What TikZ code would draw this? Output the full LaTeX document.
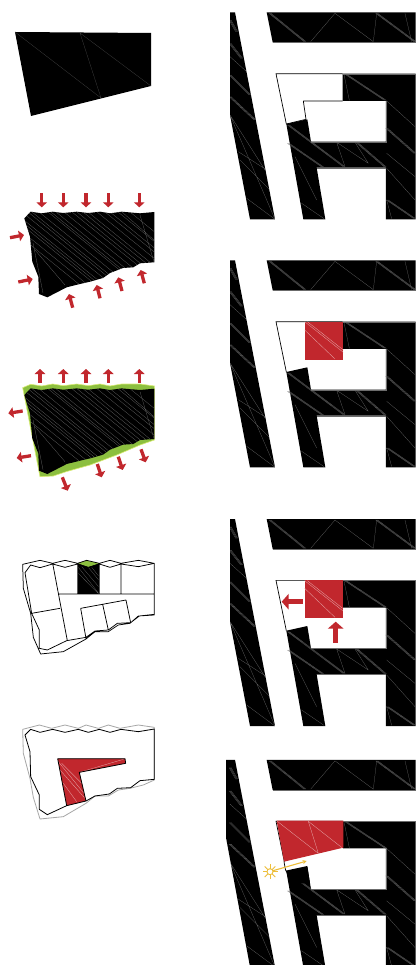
\documentclass[tikz,border=0pt]{standalone}
\usetikzlibrary{arrows.meta}
\definecolor{rd}{HTML}{C1272D}
\definecolor{gn}{HTML}{8CBF3F}
\definecolor{yl}{HTML}{EDBE3A}
\tikzset{
 hatch/.style={draw=white!42!black,line width=0.22pt},
 faint/.style={draw=white!28!black,line width=0.22pt},
 redhatch/.style={draw=white!60!rd,line width=0.3pt},
 thin line/.style={draw=black,line width=0.7pt},
 arrS/.style={draw=rd,line width=3.3pt,-{Triangle[width=10.5pt,length=5pt]}},
 arrL/.style={draw=rd,line width=5.5pt,-{Triangle[width=15.5pt,length=7pt]}},
 zm/.style={x=0.3333pt,y=-0.3333pt},
}
% triple hatch line
\newcommand{\tri}[2]{\foreach \dd in {-3,0,3}{\draw[hatch] ([xshift=\dd*0.3333pt]#1) -- ([xshift=\dd*0.3333pt]#2);}}
\newcommand{\siteplan}[3]{%
 \begin{scope}[shift={(220pt,-#1pt)},zm]
  % left strip
  \begin{scope}
   \clip (#2,37) -- (45,37) -- (165,658) -- (90,658) -- (#2,#3) -- cycle;
   \fill (0,0) rectangle (200,700);
   \tri{30,60}{50,95}\tri{30,130}{65,175}\draw[hatch](30,170)--(80,215);
   \tri{30,225}{90,285}\tri{30,290}{105,360}
   \draw[hatch](30,345)--(135,510) (55,455)--(140,510) (60,480)--(150,570) (80,595)--(165,658) (30,345)--(165,658);
  \end{scope}
  % top bar
  \fill (140,37) -- (587,37) -- (587,127) -- (158,127) -- cycle;
  \tri{150,40}{255,125}\tri{470,40}{585,125}
  \draw[hatch](345,40)--(272,125) (345,40)--(460,125) (470,40)--(460,125) (555,40)--(575,125);
  \draw[hatch] (158,127)--(587,127);
  % main block
  \fill (368,221) -- (587,221) -- (587,658) -- (498,658) -- (498,503) -- (290,503) -- (316,658) -- (250,658) -- (199,372) -- (262,358) -- (273,425) -- (498,425) -- (498,303) -- (368,303) -- cycle;
  \draw[hatch](372,223)--(388,301);
  \tri{378,223}{496,301}\draw[hatch](500,303)--(585,380);
  \tri{500,385}{585,460}\draw[hatch](500,460)--(585,530);
  \tri{205,375}{372,500}\tri{205,430}{308,501}
  \draw[hatch](350,427)--(375,500) (350,427)--(445,490) (405,427)--(445,490);
  \tri{410,427}{496,501}
  \draw[hatch](500,505)--(585,600) (500,600)--(515,656) (225,470)--(290,600) (245,610)--(312,656);
  \tri{502,600}{584,656}
  \draw[hatch] (273,425)--(498,425)--(498,303) (290,503)--(498,503);
  % courtyard outline
  \draw[thin line] (368,221) -- (168,221) -- (199,372);
  \draw[hatch] (368,221)--(587,221);
 \end{scope}}
\begin{document}
\begin{tikzpicture}[x=1pt,y=-1pt]
\useasboundingbox (0,0) rectangle (416,965);
\fill[white] (0,0) rectangle (416,965);

% ---- diagram 1
\fill (15,32) -- (151,33) -- (151,86) -- (31,116) -- cycle;
\draw[faint] (80,33)--(101,98) (15,32)--(101,98) (80,33)--(151,86);

% ---- diagram 2
\def\blob{(24.3,218.3) -- (30.7,211.7) -- (41.7,213.3) -- (52.7,211.7) -- (63.3,213) -- (76.7,211.7) -- (88.3,213) -- (100,211.7) -- (110,213.3) -- (121.7,211.7) -- (140,213.3) -- (154.3,212) -- (154.3,262.3) -- (140,263.3) -- (133.3,267.3) -- (123,268) -- (110,273) -- (103,278) -- (90,281.7) -- (80,284) -- (66.7,287.3) -- (47.3,297.3) -- (39,294) -- (38.3,276.7) -- (32.3,261.7) -- (30,236.7) -- cycle}
\newcommand{\blobfill}{%
 \begin{scope}
  \clip \blob;
  \fill (0,200) rectangle (170,300);
  \foreach \d in {-30,-22,-14,-10,-6,2,8,12,19,28,31,36,44,52,57,63,68,77,85,90,98,110}{
   \draw[hatch] (20+\d,212) -- (110+\d,285);}
  \draw[hatch] (33,243)--(43,293) (35,250)--(65,285) (122,212)--(154,240) (140,215)--(154,262);
 \end{scope}}
\blobfill
\foreach \x in {41.7,63.3,86,108.3,139.3}{\draw[arrS] (\x,193.3) -- (\x,207.3);}
\draw[arrS] (10,237.7) -- (24,235);
\draw[arrS] (18.3,282) -- (32.7,279);
\draw[arrS] (72.7,307.7) -- (69,294);
\draw[arrS] (100,298.3) -- (96.7,285);
\draw[arrS] (122,291) -- (118.3,277.3);
\draw[arrS] (144.3,283.3) -- (140.7,270);

% ---- diagram 3
\fill[gn,draw=white!50!yellow!85!green,line width=0.6pt] (22.7,387.7) -- (30.7,384.3) -- (41.7,386) -- (52.7,384) -- (63.3,385.7) -- (76.7,384) -- (88.3,385.7) -- (100,384) -- (110,386) -- (121.7,384) -- (140,384) -- (154.3,386) -- (154.3,440) -- (140,445) -- (116.7,455) -- (90,465) -- (66.7,471.5) -- (53.3,476) -- (40,476.7) -- cycle;
\begin{scope}[yshift=-176.7pt]\blobfill\end{scope}
\foreach \x in {40,63.3,86,108.3,139.3}{\draw[arrS] (\x,382.7) -- (\x,369);}
\draw[arrS] (22.7,411) -- (8.3,413.3);
\draw[arrS] (31,455.7) -- (16.7,458);
\draw[arrS] (62.3,477.3) -- (67.7,490.7);
\draw[arrS] (97.3,464) -- (101.7,477.3);
\draw[arrS] (118.3,456.7) -- (122.7,470);
\draw[arrS] (141,449.3) -- (145.7,462.3);

% ---- diagram 4
\begin{scope}[shift={(10pt,-550pt)},zm]
 \fill (203,42) rectangle (268,132);
 \draw[hatch] (205,52)--(266,130) (205,70)--(266,132) (215,50)--(266,110) (235,52)--(266,90) (245,52)--(266,78);
 \fill[gn] (203,40) -- (230,32) -- (268,40) -- (235,51) -- cycle;
 \draw[black,line width=0.75pt,line join=round]
  (38,43) -- (90,31) -- (128,40) -- (165,31) -- (203,40) -- (230,31) -- (268,40) -- (300,31) -- (333,40) -- (385,31) -- (433,40) -- (433,195) -- (385,198) -- (360,220) -- (325,225) -- (295,245) -- (255,245) -- (228,267) -- (160,305) -- (92,312) -- (70,262) -- (62,190) -- (40,115) -- cycle
  (45,68) -- (62,45) -- (90,53) -- (128,42) -- (165,52) -- (203,42) -- (235,52) -- (268,42) -- (300,52) -- (333,42) -- (385,50) -- (433,40)
  (45,68) -- (65,190) -- (88,240) -- (88,295) -- (112,300) -- (170,272) -- (228,262) -- (255,243) -- (295,240) -- (322,220) -- (362,218) -- (388,198) -- (433,193)
  (128,40) -- (172,272) (65,190) -- (150,175) (145,132) -- (433,132)
  (203,40) -- (203,132) (268,40) -- (268,132) (333,40) -- (333,132)
  (212,175) -- (348,150) (212,175) -- (228,265) (278,163) -- (295,240) (348,150) -- (362,218);
\end{scope}

% ---- diagram 5
\begin{scope}[shift={(10pt,-720pt)},zm]
 \draw[white!65!black,line width=0.8pt,line join=round]
  (38,28) -- (88,15) -- (125,25) -- (165,15) -- (205,25) -- (228,15) -- (265,25) -- (295,15) -- (330,25) -- (385,15) -- (433,22) -- (433,180) -- (400,195) -- (360,205) -- (325,210) -- (295,228) -- (255,228) -- (228,250) -- (160,290) -- (90,297) -- (70,232) -- (60,175) -- (40,100) -- cycle;
 \fill[rd] (143,116) -- (345,116) -- (347,130) -- (208,157) -- (228,243) -- (170,257) -- cycle;
 \draw[redhatch] (145,125)--(222,220) (150,150)--(225,235) (155,130)--(215,190) (160,190)--(200,245) (208,157)--(340,118);
 \draw[black,line width=0.8pt,line join=round]
  (45,45) -- (62,28) -- (90,37) -- (128,28) -- (165,37) -- (205,28) -- (235,37) -- (268,28) -- (300,37) -- (333,28) -- (385,35) -- (433,27) -- (433,178) -- (390,182) -- (362,203) -- (322,205) -- (298,222) -- (255,228) -- (228,243) -- (170,257) -- (112,284) -- (88,268) -- (88,225) -- (62,170) -- (60,95) -- cycle
  (143,116) -- (170,257) (347,130) -- (208,157) -- (228,243)
  (143,116) -- (345,116) -- (347,130);
\end{scope}

% ---- site plans
\siteplan{0}{30}{345}
\begin{scope}[shift={(220pt,0pt)},zm]
 \draw[thin line] (199,372)--(258,358) (250,303)--(258,358) (250,303)--(368,303);
\end{scope}

\siteplan{248}{30}{345}
\begin{scope}[shift={(220pt,-255pt)},zm]
 \fill[rd] (254,200) rectangle (370,315);
 \draw[redhatch] (254,200)--(370,292) (262,200)--(370,285) (254,225)--(345,312);
\end{scope}

\siteplan{506.7}{30}{345}
\begin{scope}[shift={(220pt,-510pt)},zm]
 \fill[rd] (254,210) rectangle (370,325);
 \draw[redhatch] (254,212)--(368,302) (262,212)--(368,295) (254,235)--(345,322);
\end{scope}
\draw[arrL] (302.7,601.7) -- (281.7,601.7);
\draw[arrL] (335.7,642.7) -- (335.7,621.7);

\siteplan{747.5}{18}{270}
\begin{scope}[shift={(220pt,-750pt)},zm]
 \fill[white] (192,336) -- (368,294) -- (368,296) -- (262,348) -- (197,362) -- cycle;
 \fill[rd] (170,212) -- (370,212) -- (370,293) -- (192,335) -- cycle;
 \draw[redhatch] (172,214)--(295,310) (265,214)--(295,310) (265,214)--(366,293);
 \draw[thin line] (192,335)--(197,362);
 \fill[black] (197,362) -- (262,348) -- (270,400) -- (215,400) -- cycle;
\end{scope}
\begin{scope}[shift={(270pt,-871.7pt)}]
 \draw[yl,line width=0.9pt] (0,0) circle (3pt);
 \foreach \a in {0,45,...,315}{\draw[yl,line width=0.9pt] (\a:3pt) -- (\a:7.5pt);}
\end{scope}
\draw[yl,line width=1.1pt,-{Stealth[length=4pt,width=4pt]}] (273,870.7) -- (306.7,861);
\end{tikzpicture}
\end{document}
